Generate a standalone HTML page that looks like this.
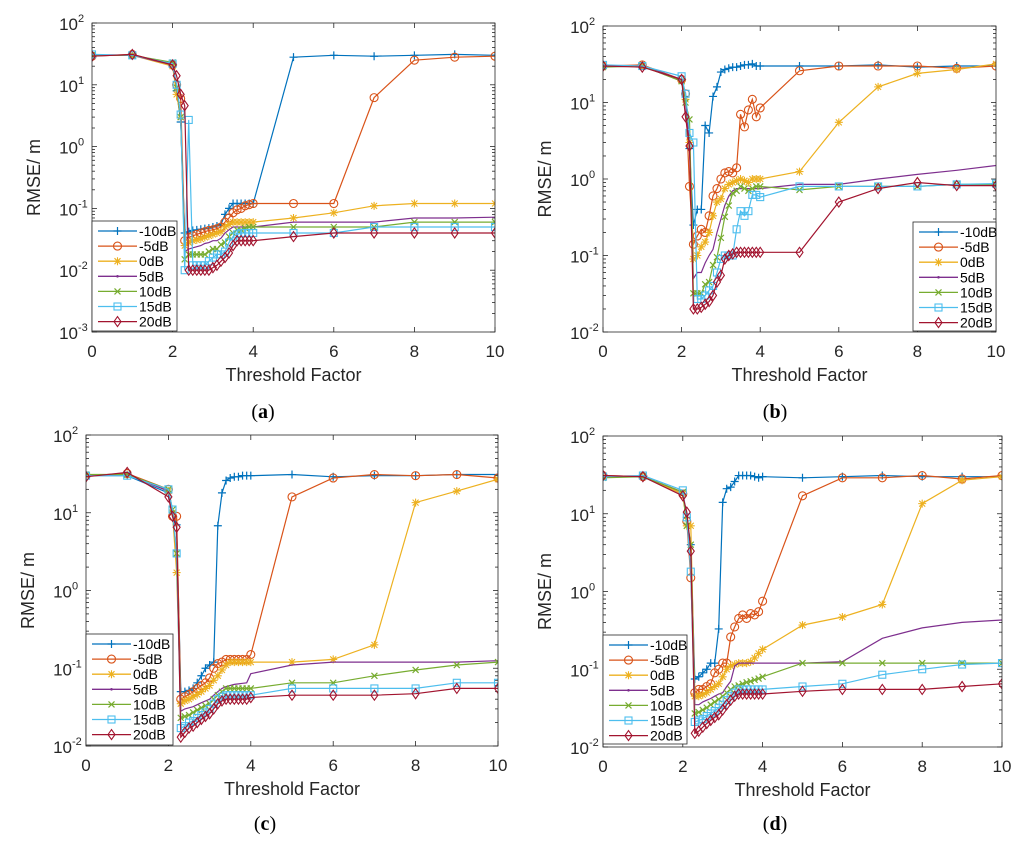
<!DOCTYPE html>
<html><head><meta charset="utf-8"><style>
html,body{margin:0;padding:0;background:#fff;}
svg{display:block;font-family:"Liberation Sans",Arial,sans-serif;}
</style></head><body>
<svg id="fig" width="1024" height="841" viewBox="0 0 1024 841" xmlns="http://www.w3.org/2000/svg"></svg>
<script>
const xs = [0,1,2,2.1,2.2,2.3,2.4,2.5,2.6,2.7,2.8,2.9,3.0,3.1,3.2,3.3,3.4,3.5,3.6,3.7,3.8,3.9,4.0,5,6,7,8,9,10];
const seriesNames = ["-10dB","-5dB","0dB","5dB","10dB","15dB","20dB"];
const xTicks = [0,2,4,6,8,10];

const aM10=[30,30,22,8,2.5,0.04,0.042,0.044,0.045,0.046,0.047,0.048,0.05,0.052,0.055,0.08,0.1,0.12,0.12,0.12,0.12,0.12,0.12,28,30,29,30,31,30];
const aM5=[29,31,21,10,6,0.03,0.034,0.036,0.038,0.04,0.042,0.044,0.045,0.047,0.05,0.06,0.07,0.085,0.095,0.1,0.11,0.115,0.12,0.12,0.12,6.2,25,28,29];
const aZ0=[30,30,20,7,3,0.025,0.028,0.03,0.031,0.032,0.034,0.036,0.038,0.04,0.042,0.05,0.055,0.06,0.06,0.06,0.06,0.06,0.06,0.07,0.085,0.11,0.12,0.12,0.12];
const aP5=[30,30,21,9,3,0.02,0.022,0.023,0.024,0.025,0.027,0.028,0.03,0.03,0.033,0.04,0.045,0.05,0.05,0.05,0.05,0.05,0.05,0.06,0.06,0.06,0.07,0.07,0.072];
const aP10=[30,30,23,9,3,0.015,0.018,0.018,0.018,0.018,0.018,0.02,0.022,0.022,0.026,0.028,0.035,0.04,0.045,0.045,0.048,0.05,0.05,0.05,0.05,0.05,0.06,0.06,0.06];
const aP15=[31,30,22,10,3.3,0.01,2.7,0.012,0.012,0.012,0.012,0.014,0.016,0.018,0.018,0.02,0.028,0.035,0.038,0.04,0.04,0.04,0.04,0.04,0.04,0.05,0.05,0.05,0.05];
const aP20=[29,31,21,14,7,4.6,0.01,0.01,0.01,0.01,0.01,0.01,0.011,0.012,0.014,0.016,0.019,0.025,0.03,0.03,0.03,0.03,0.03,0.035,0.04,0.04,0.04,0.04,0.04];

const bM10=[30,30,19,12,2.5,0.25,0.4,0.4,5,4,12,16,25,27,28,29,29,30,31,31,32,30,30,30,30,31,29,30,30];
const bM5=[30,31,20,13,0.8,0.14,0.18,0.22,0.2,0.33,0.6,0.75,1.0,1.2,1.25,1.2,1.4,7,4.8,8,11,6.5,8.5,26,30,30,30,28,30];
const bZ0=[30,30,19,11,3,0.09,0.1,0.13,0.15,0.2,0.33,0.5,0.55,0.75,0.85,0.9,0.95,1.0,0.95,0.9,1.0,1.0,1.0,1.25,5.5,16,24,27,32];
const bP5=[30,30,20,10,3,0.05,0.06,0.06,0.08,0.1,0.12,0.2,0.3,0.45,0.6,0.7,0.75,0.75,0.75,0.75,0.75,0.75,0.75,0.85,0.85,1.0,1.15,1.3,1.5];
const bP10=[29,30,19,10,6,0.032,0.032,0.032,0.042,0.045,0.075,0.095,0.17,0.32,0.45,0.65,0.7,0.8,0.75,0.7,0.75,0.8,0.8,0.72,0.8,0.8,0.8,0.85,0.85];
const bP15=[31,30,22,13,4,3,0.027,0.027,0.03,0.035,0.04,0.06,0.09,0.1,0.1,0.1,0.22,0.38,0.33,0.38,0.62,0.62,0.58,0.8,0.8,0.8,0.8,0.85,0.87];
const bP20=[30,29,20,6.5,2.7,0.02,0.02,0.021,0.023,0.025,0.03,0.045,0.055,0.09,0.1,0.105,0.11,0.11,0.11,0.11,0.11,0.11,0.11,0.11,0.5,0.75,0.9,0.82,0.82];

const cM10=[30,30,18,10,7,0.05,0.05,0.052,0.055,0.065,0.08,0.1,0.11,0.12,6.8,18,26,28,29,29,30,30,30,31,29,30,30,31,31];
const cM5=[30,32,20,9,9,0.04,0.043,0.046,0.05,0.055,0.06,0.065,0.075,0.1,0.115,0.12,0.13,0.13,0.13,0.13,0.13,0.13,0.15,16,28,31,30,31,28];
const cZ0=[30,31,19,10,1.7,0.035,0.038,0.04,0.043,0.046,0.05,0.055,0.06,0.07,0.08,0.095,0.11,0.12,0.12,0.12,0.12,0.12,0.12,0.12,0.13,0.2,13.5,19,27];
const cP5=[30,31,19,10,3,0.028,0.03,0.031,0.032,0.034,0.036,0.038,0.04,0.045,0.05,0.055,0.058,0.06,0.062,0.063,0.064,0.065,0.085,0.11,0.12,0.12,0.12,0.12,0.125];
const cP10=[31,31,20,11,3,0.023,0.024,0.025,0.027,0.029,0.031,0.033,0.035,0.04,0.045,0.05,0.055,0.055,0.055,0.055,0.055,0.055,0.055,0.065,0.065,0.08,0.095,0.11,0.12];
const cP15=[30,30,20,11,3,0.017,0.018,0.02,0.021,0.023,0.025,0.027,0.03,0.035,0.04,0.043,0.045,0.045,0.045,0.045,0.045,0.045,0.045,0.055,0.055,0.055,0.055,0.065,0.065];
const cP20=[29,33,16,9,6.5,0.013,0.015,0.017,0.018,0.02,0.022,0.024,0.026,0.03,0.035,0.038,0.04,0.04,0.04,0.04,0.04,0.04,0.042,0.045,0.045,0.045,0.047,0.055,0.055];

const dM10=[30,30,18,9,4,0.075,0.08,0.09,0.1,0.12,0.12,0.33,14,21,22,26,31,31,31,31,30,29,30,29,30,31,30,30,30];
const dM5=[31,30,18,8,1.5,0.05,0.055,0.055,0.06,0.065,0.09,0.1,0.12,0.12,0.26,0.35,0.45,0.5,0.45,0.52,0.5,0.55,0.75,17,29,29,31,28,31];
const dZ0=[30,30,18,7,7,0.045,0.045,0.047,0.05,0.055,0.06,0.065,0.08,0.1,0.11,0.115,0.12,0.12,0.12,0.125,0.14,0.16,0.18,0.37,0.47,0.68,13.5,27,30];
const dP5=[30,30,19,8,4,0.035,0.035,0.038,0.04,0.042,0.045,0.048,0.05,0.06,0.07,0.11,0.12,0.12,0.12,0.12,0.12,0.12,0.12,0.12,0.125,0.25,0.34,0.4,0.43];
const dP10=[29,30,19,7,4,0.027,0.028,0.03,0.032,0.035,0.038,0.041,0.045,0.05,0.055,0.06,0.062,0.065,0.068,0.07,0.073,0.076,0.08,0.12,0.12,0.12,0.12,0.12,0.12];
const dP15=[30,31,20,9,1.8,0.021,0.022,0.023,0.025,0.027,0.029,0.032,0.035,0.04,0.045,0.05,0.055,0.055,0.055,0.055,0.055,0.055,0.055,0.06,0.065,0.085,0.1,0.115,0.12];
const dP20=[31,30,17,10.5,3.3,0.015,0.016,0.018,0.02,0.022,0.024,0.026,0.03,0.035,0.04,0.045,0.048,0.048,0.048,0.048,0.048,0.048,0.048,0.052,0.055,0.055,0.055,0.06,0.065];

const colors=["#0072BD","#D95319","#EDB120","#7E2F8E","#77AC30","#4DBEEE","#A2142F"];
const markers=["plus","circle","star","dot","cross","square","diamond"];

const panels=[
 {id:"a",L:92,R:495,T:23,B:332,e0:-3,e1:2,data:[aM10,aM5,aZ0,aP5,aP10,aP15,aP20],leg:{x:92,y:221,w:85,h:110},cap:{x:263,y:418}},
 {id:"b",L:603,R:996,T:26,B:332,e0:-2,e1:2,data:[bM10,bM5,bZ0,bP5,bP10,bP15,bP20],leg:{x:913,y:222,w:83,h:109},cap:{x:775,y:418}},
 {id:"c",L:86,R:498,T:435,B:746,e0:-2,e1:2,data:[cM10,cM5,cZ0,cP5,cP10,cP15,cP20],leg:{x:86,y:634,w:87,h:111},cap:{x:265,y:830}},
 {id:"d",L:603,R:1002,T:436,B:747,e0:-2,e1:2,data:[dM10,dM5,dZ0,dP5,dP10,dP15,dP20],leg:{x:603,y:635,w:84,h:109},cap:{x:775,y:830}}
];

const NS="http://www.w3.org/2000/svg";
const svg=document.getElementById("fig");
function el(tag,attrs,parent){const e=document.createElementNS(NS,tag);for(const k in attrs)e.setAttribute(k,attrs[k]);(parent||svg).appendChild(e);return e;}

function drawMarker(g,type,x,y,c){
  const r=4;let m;
  if(type==="plus"){m=el("path",{d:`M${x-r} ${y}H${x+r}M${x} ${y-r}V${y+r}`,stroke:c,"stroke-width":1.2,fill:"none"},g);}
  else if(type==="circle"){m=el("circle",{cx:x,cy:y,r:r,stroke:c,"stroke-width":1.1,fill:"none"},g);}
  else if(type==="star"){m=el("path",{d:`M${x-r} ${y}H${x+r}M${x} ${y-r}V${y+r}M${x-3} ${y-3}L${x+3} ${y+3}M${x-3} ${y+3}L${x+3} ${y-3}`,stroke:c,"stroke-width":1.1,fill:"none"},g);}
  else if(type==="dot"){m=el("circle",{cx:x,cy:y,r:1.3,fill:c},g);}
  else if(type==="cross"){m=el("path",{d:`M${x-3} ${y-3}L${x+3} ${y+3}M${x-3} ${y+3}L${x+3} ${y-3}`,stroke:c,"stroke-width":1.2,fill:"none"},g);}
  else if(type==="square"){m=el("rect",{x:x-3.5,y:y-3.5,width:7,height:7,stroke:c,"stroke-width":1.1,fill:"none"},g);}
  else {m=el("path",{d:`M${x} ${y-5}L${x+3.5} ${y}L${x} ${y+5}L${x-3.5} ${y}Z`,stroke:c,"stroke-width":1.1,fill:"none"},g);}
  
  
}

panels.forEach(p=>{
  const g=el("g",{});
  
  
  const sx=v=>p.L+(v-xs[0])/(10-0)*(p.R-p.L);
  const sy=v=>p.B-(Math.log10(v)-p.e0)/(p.e1-p.e0)*(p.B-p.T);
  const clipId="clip"+p.id;
  const cp=el("clipPath",{id:clipId},g);el("rect",{x:p.L,y:p.T,width:p.R-p.L,height:p.B-p.T},cp);
  const tk=el("g",{stroke:"#262626","stroke-width":0.8},g);
  
  
  for(let e=p.e0;e<=p.e1;e++){
    const y=sy(Math.pow(10,e));
    el("line",{x1:p.L,x2:p.L+5,y1:y,y2:y},tk);el("line",{x1:p.R,x2:p.R-5,y1:y,y2:y},tk);
    if(e<p.e1)for(let k=2;k<10;k++){const yy=sy(k*Math.pow(10,e));el("line",{x1:p.L,x2:p.L+3,y1:yy,y2:yy},tk);el("line",{x1:p.R,x2:p.R-3,y1:yy,y2:yy},tk);}
    const t=el("text",{x:p.L-14,y:y+7,"text-anchor":"end","font-size":17,fill:"#262626"},g);
    t.textContent="10";
    
    
    const s=el("text",{x:p.L-14,y:y-1,"font-size":11,fill:"#262626"},g);
    s.textContent=String(e);
    
    
  }
  xTicks.forEach(v=>{
    const x=sx(v);
    el("line",{x1:x,x2:x,y1:p.B,y2:p.B-5},tk);el("line",{x1:x,x2:x,y1:p.T,y2:p.T+5},tk);
    const t=el("text",{x:x,y:p.B+25,"text-anchor":"middle","font-size":17,fill:"#262626"},g);
    t.textContent=String(v);
    
    
  });
  const sg=el("g",{"clip-path":`url(#${clipId})`},g);
  p.data.forEach((arr,i)=>{
    const pts=arr.map((v,j)=>sx(xs[j]).toFixed(1)+","+sy(v).toFixed(1)).join(" ");
    const ln=el("polyline",{points:pts,fill:"none",stroke:colors[i],"stroke-width":1.2},sg);
    
    
    arr.forEach((v,j)=>{ if(i!==3) drawMarker(sg,markers[i],sx(xs[j]),sy(v),colors[i]); });
  });
  const bx=el("rect",{x:p.L,y:p.T,width:p.R-p.L,height:p.B-p.T,fill:"none",stroke:"#262626","stroke-width":0.8},g);
  
  
  const lg=el("g",{},g);
  
  
  el("rect",{x:p.leg.x,y:p.leg.y,width:p.leg.w,height:p.leg.h,fill:"#fff",stroke:"#262626","stroke-width":0.8},lg);
  seriesNames.forEach((n,i)=>{
    const y=p.leg.y+10+i*15.1;
    const e=el("g",{},lg);
    
    
    el("line",{x1:p.leg.x+6,x2:p.leg.x+45,y1:y,y2:y,stroke:colors[i],"stroke-width":1.3},e);
    drawMarker(e,markers[i],p.leg.x+25.5,y,colors[i]);
    const t=el("text",{x:p.leg.x+47,y:y+5,"font-size":14,fill:"#000"},e);
    t.textContent=n;
  });
  const xl=el("text",{x:(p.L+p.R)/2,y:p.B+49,"text-anchor":"middle","font-size":18,fill:"#262626"},g);
  xl.textContent="Threshold Factor";
  
  
  const cy=(p.T+p.B)/2;
  const yl=el("text",{x:p.L-52,y:cy,"text-anchor":"middle","font-size":18,fill:"#262626",transform:`rotate(-90 ${p.L-52} ${cy})`},g);
  yl.textContent="RMSE/ m";
  
  
  const cap=el("text",{x:p.cap.x,y:p.cap.y,"text-anchor":"middle","font-size":20,"font-family":"Liberation Serif, serif",fill:"#000"},g);
  cap.innerHTML='(<tspan font-weight="bold">'+p.id+'</tspan>)';
  
  
});
</script>
</body></html>
